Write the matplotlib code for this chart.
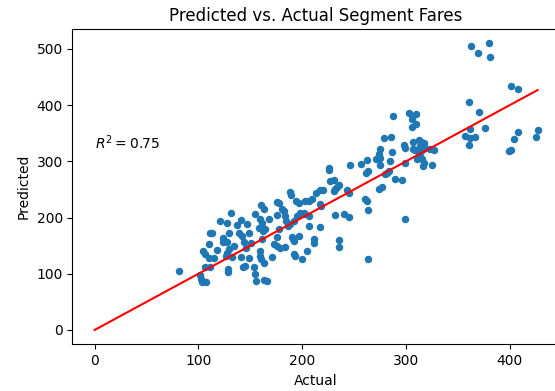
import matplotlib
matplotlib.use('Agg')
import matplotlib.pyplot as plt
import numpy as np

# actual vs predicted segment fares
actual = [81.6, 101.2, 102.4, 103.3, 107.2, 104.1, 106, 109.9, 111.5, 113.1,
          118, 110.5, 114.7, 106, 111.5, 121.1, 127.8, 131.4, 129.1, 123.3,
          123.3, 127.5, 129.1, 127.8, 126.5, 128.5, 128.5, 134, 132.4, 137.2,
          140.7, 138.8, 142, 141.3, 142.6, 144.5, 143.9, 147.1, 148.4, 145.9,
          150.9, 149, 153.2, 154.2, 158, 161.2, 159.6, 154.8, 155.5, 160.6,
          160.6, 163.2,
          225.4, 226.1, 245.7, 227.1, 231, 235.1, 230.4, 220.1, 217.5, 213.2,
          209.4, 206.2, 203, 188.5, 189.2, 194.3, 196.6, 175.7, 177.3, 180.5,
          182.1, 162.8, 164.5, 162.2, 168.3, 175.7, 183.1, 184.7, 186, 198.1,
          201.4, 203, 206.2, 194.9, 192.4, 188.5, 206.2, 217.5, 232, 240.6,
          177.3, 175.7, 190.1, 191.1, 192.4, 196.6, 211, 211.6, 235.1, 235.7,
          161.2, 172.4, 175.7, 178.9, 183.7, 159.6, 159.6, 162.8, 170.8, 191.7,
          193.3, 199.7, 204.6, 166, 217.4, 218.4, 232, 234,
          287.1, 302.5, 309.6, 305.7, 309.9, 305.4, 278.4, 285.8, 297.7, 298.7,
          306.7, 312.8, 314.8, 317, 313.8, 318.6, 315.4, 306.7, 309, 323.4,
          327.3, 312.2, 313.8, 315.4, 317, 316.4, 310.6, 274.6, 273.6, 275.3,
          271.4, 274.6, 286.4, 284.9, 299.3, 256.6, 262.4, 325, 283.3, 280.1,
          281.7, 261.7, 263.4, 289, 296.1, 273.6, 276.9, 243.1, 244.7, 260.1,
          262.4, 263, 245.4, 299.3, 263,
          362.6, 380.2, 369.9, 381.2, 401.4, 407.8, 361, 370.6, 361.9, 376.4,
          357.1, 361.3, 366.8, 360.3, 407.8, 404.3, 426.8, 425.5, 401.1, 398.9]

predicted = [104.6, 97.5, 90.4, 84.6, 85.8, 140.6, 134.6, 153.7, 172, 172,
             141.8, 127.7, 127.7, 112.9, 112.9, 193.8, 190.8, 208.7, 173.2, 163.1,
             156.6, 157.2, 144.8, 137.7, 131.7, 108.1, 104, 148.6, 129.1, 186.2,
             195.6, 173.2, 167.3, 129.1, 111.4, 113.5, 156.6, 187.9, 172, 146.6,
             155.4, 127.7, 112.3, 205.7, 181.9, 190.8, 196.7, 99.3, 87.5, 222.2,
             125.9, 89.3,
             288.4, 284.3, 294.3, 264.7, 267.7, 257.1, 247, 248.8, 248.8, 242.9,
             233.5, 229.4, 229.4, 245.3, 239.4, 229.4, 225.3, 227.6, 226.5, 215.8,
             211.7, 215.8, 179.1, 176.1, 196.8, 204.5, 202.7, 193.8, 185, 207.4,
             208.6, 205.7, 202.7, 202.7, 193.8, 187.9, 185, 183.8, 203.9, 205.7,
             179.1, 166.1, 166.1, 161.4, 158.4, 167.3, 161.4, 154.3, 160.2, 148.4,
             161.4, 152.5, 149.5, 146.6, 147.8, 140.7, 131.8, 120, 130.1, 134.8,
             131.8, 125.9, 140.7, 87.5, 223.4, 220, 251.5, 255,
             381.2, 386, 384.8, 375.9, 367.1, 361.2, 341.1, 342.9, 328.8, 324.1,
             334.7, 337.6, 334.7, 332.9, 327, 324.1, 321.1, 322.3, 319.9, 322.3,
             319.9, 315.2, 309.3, 303.4, 297.5, 291.6, 303.4, 322.3, 312.3, 306.4,
             303.4, 292.8, 316.4, 300.5, 297.5, 295.7, 301.6, 293.4, 283.4, 277.5,
             279.3, 279.3, 282.2, 269.5, 266.5, 250.1, 254.8, 248.9, 243, 233.5,
             229.4, 213.4, 201.6, 197.9, 125.9,
             505.3, 510, 492.3, 485.2, 433.3, 429.1, 404.9, 388.3, 358.2, 360,
             344.6, 341.6, 343.4, 328.4, 352.1, 339.7, 355.7, 343.3, 320.9, 317.9]

r2_text = r'$R^2 = 0.75$'

fig = plt.figure(figsize=(5.55, 3.91), dpi=100)
# the original picture cuts the right spine off, so the axes run past the edge
ax = fig.add_axes([0.1306, 0.1194, 0.8778, 0.8064])

ax.scatter(actual, predicted, s=19, color='#1f77b4')
top = max(actual)
ax.plot([0, top], [0, top], color='r', linewidth=1.5)
ax.text(0, 322, r2_text, fontsize=10)

ax.set_title('Predicted vs. Actual Segment Fares')
ax.set_xlabel('Actual')
ax.set_ylabel('Predicted')

fig.savefig('out.png', dpi=100)
